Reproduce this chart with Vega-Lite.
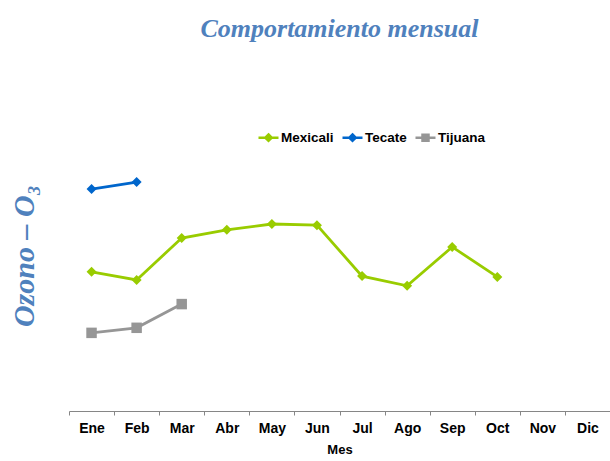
{
  "$schema": "https://vega.github.io/schema/vega-lite/v6.json",
  "width": 541,
  "height": 311,
  "autosize": {"type": "none"},
  "padding": {"left": 69, "top": 100, "right": 0, "bottom": 50},
  "background": "white",
  "title": {
    "text": "Comportamiento mensual",
    "font": "Liberation Serif",
    "fontSize": 26,
    "fontStyle": "italic",
    "fontWeight": "bold",
    "color": "#4F81BD",
    "anchor": "middle",
    "offset": 58
  },
  "config": {"view": {"stroke": null}},
  "data": {
    "values": [
      {"mes": "Ene", "estacion": "Mexicali", "ozono": 0.0358},
      {"mes": "Feb", "estacion": "Mexicali", "ozono": 0.0337},
      {"mes": "Mar", "estacion": "Mexicali", "ozono": 0.0445},
      {"mes": "Abr", "estacion": "Mexicali", "ozono": 0.0466},
      {"mes": "May", "estacion": "Mexicali", "ozono": 0.0481},
      {"mes": "Jun", "estacion": "Mexicali", "ozono": 0.0478},
      {"mes": "Jul", "estacion": "Mexicali", "ozono": 0.0347},
      {"mes": "Ago", "estacion": "Mexicali", "ozono": 0.0322},
      {"mes": "Sep", "estacion": "Mexicali", "ozono": 0.0422},
      {"mes": "Oct", "estacion": "Mexicali", "ozono": 0.0345},
      {"mes": "Ene", "estacion": "Tecate", "ozono": 0.0571},
      {"mes": "Feb", "estacion": "Tecate", "ozono": 0.0589},
      {"mes": "Ene", "estacion": "Tijuana", "ozono": 0.0201},
      {"mes": "Feb", "estacion": "Tijuana", "ozono": 0.0214},
      {"mes": "Mar", "estacion": "Tijuana", "ozono": 0.0275}
    ]
  },
  "encoding": {
    "x": {
      "field": "mes",
      "type": "ordinal",
      "sort": ["Ene", "Feb", "Mar", "Abr", "May", "Jun", "Jul", "Ago", "Sep", "Oct", "Nov", "Dic"],
      "scale": {
        "domain": ["Ene", "Feb", "Mar", "Abr", "May", "Jun", "Jul", "Ago", "Sep", "Oct", "Nov", "Dic"],
        "paddingInner": 0,
        "paddingOuter": 0
      },
      "axis": {
        "tickBand": "extent",
        "labelAngle": 0,
        "domainColor": "#868686",
        "tickColor": "#868686",
        "tickSize": 4,
        "grid": false,
        "labelFont": "Liberation Sans",
        "labelFontWeight": "bold",
        "labelFontSize": 14,
        "labelColor": "black",
        "labelPadding": 6,
        "title": "Mes",
        "titleFont": "Liberation Sans",
        "titleFontWeight": "bold",
        "titleFontSize": 13,
        "titleColor": "black",
        "titlePadding": 8
      }
    },
    "y": {
      "field": "ozono",
      "type": "quantitative",
      "scale": {"domain": [0, 0.08]},
      "axis": {
        "domain": false,
        "ticks": false,
        "labels": false,
        "grid": false,
        "title": "Ozono – O₃",
        "titleFont": "Liberation Serif",
        "titleFontSize": 30,
        "titleFontStyle": "italic",
        "titleFontWeight": "bold",
        "titleColor": "#4F81BD",
        "titlePadding": 30
      }
    },
    "color": {
      "field": "estacion",
      "type": "nominal",
      "scale": {"domain": ["Mexicali", "Tecate", "Tijuana"], "range": ["#99CC00", "#0066CC", "#969696"]},
      "legend": {
        "title": null,
        "orient": "none",
        "direction": "horizontal",
        "legendX": 188,
        "legendY": 26,
        "labelFont": "Liberation Sans",
        "labelFontSize": 13.5,
        "labelFontWeight": "bold",
        "labelColor": "black",
        "labelOffset": 1,
        "columnPadding": 3,
        "symbolSize": 400,
        "symbolStrokeWidth": 2.5,
        "encode": {
          "symbols": {
            "update": {
              "shape": {"signal": "datum.value === 'Tijuana' ? 'M-1,0H1M-0.3,-0.3H0.3V0.3H-0.3Z' : 'M-1,0H1M0,-0.32L0.32,0L0,0.32L-0.32,0Z'"},
              "fill": {"signal": "scale('color', datum.value)"},
              "stroke": {"signal": "scale('color', datum.value)"},
              "strokeWidth": {"value": 2.5},
              "opacity": {"value": 1}
            }
          }
        }
      }
    }
  },
  "layer": [
    {"mark": {"type": "line", "strokeWidth": 2.8}},
    {
      "transform": [{"filter": "datum.estacion !== 'Tijuana'"}],
      "mark": {"type": "point", "shape": "diamond", "filled": true, "opacity": 1, "size": 100}
    },
    {
      "transform": [{"filter": "datum.estacion === 'Tijuana'"}],
      "mark": {"type": "point", "shape": "square", "filled": true, "opacity": 1, "size": 110}
    }
  ]
}
